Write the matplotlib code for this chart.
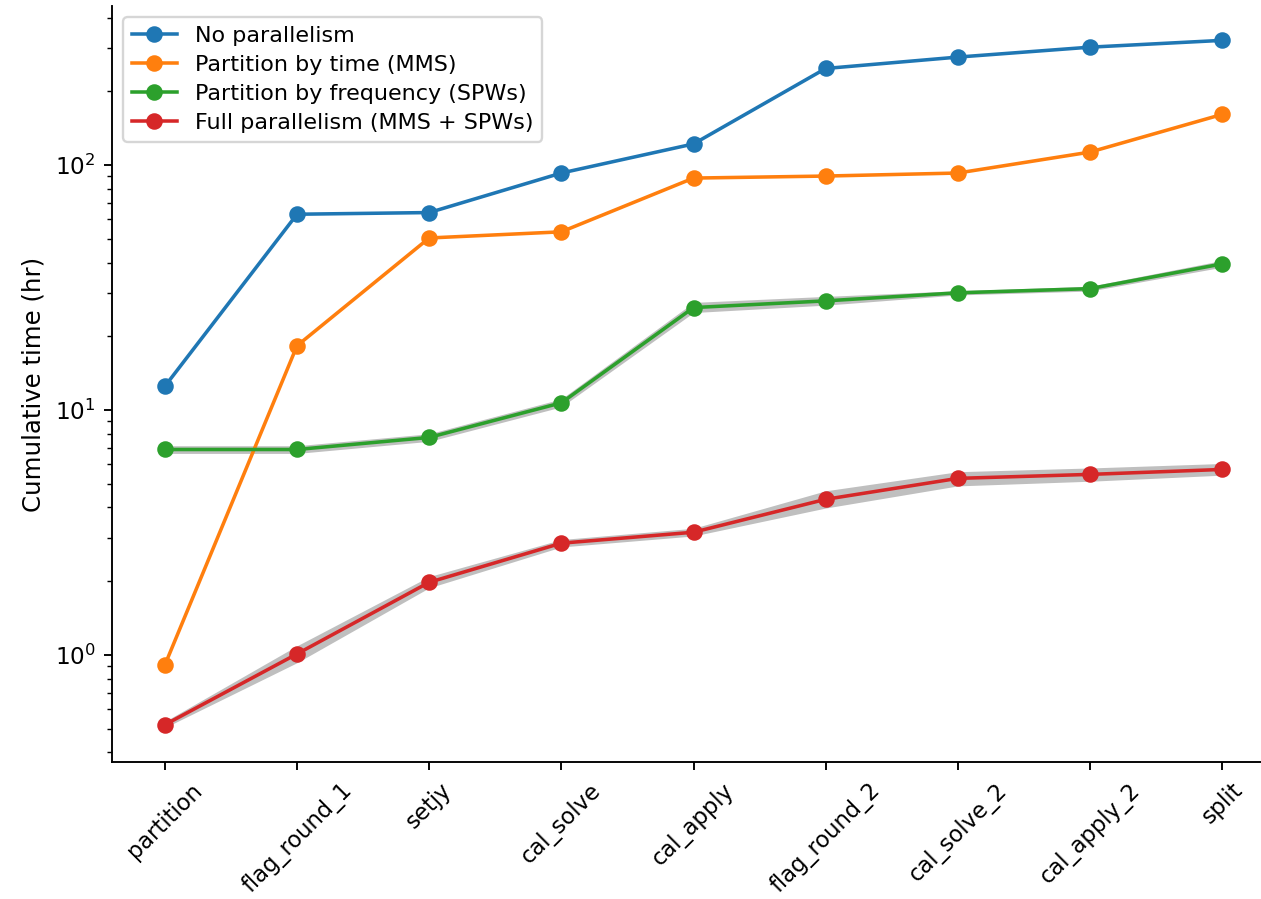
import numpy as np
import matplotlib
matplotlib.use("Agg")
import matplotlib.pyplot as plt

steps = ["partition", "flag_round_1", "setjy", "cal_solve", "cal_apply",
         "flag_round_2", "cal_solve_2", "cal_apply_2", "split"]

no_parallel = [12.5, 63, 64, 92.8, 122, 248, 276, 303, 323]
by_time = [0.91, 18.3, 50.4, 53.4, 88.5, 90.2, 92.8, 113, 161]
by_freq = [6.9, 6.9, 7.73, 10.7, 26.2, 27.9, 30.1, 31.3, 39.5]
by_freq_lo = [6.65, 6.65, 7.45, 10.3, 25.0, 26.8, 29.5, 30.6, 38.3]
by_freq_hi = [7.15, 7.15, 8.0, 11.1, 27.5, 29.1, 30.7, 32.0, 40.8]
full = [0.519, 1.01, 1.98, 2.86, 3.17, 4.32, 5.26, 5.46, 5.72]
full_lo = [0.505, 0.93, 1.88, 2.76, 3.06, 3.98, 4.9, 5.12, 5.42]
full_hi = [0.535, 1.09, 2.09, 2.96, 3.29, 4.68, 5.6, 5.8, 6.05]

labels = ["No parallelism", "Partition by time (MMS)",
          "Partition by frequency (SPWs)", "Full parallelism (MMS + SPWs)"]

fig = plt.figure(figsize=(1261 / 170, 899 / 170), dpi=170)
ax = fig.add_axes([112 / 1261, 137 / 899, 1163 / 1261, 756 / 899])

x = np.arange(len(steps))
ax.fill_between(x, by_freq_lo, by_freq_hi, color="gray", alpha=0.5, lw=0)
ax.fill_between(x, full_lo, full_hi, color="gray", alpha=0.5, lw=0)

ax.plot(x, no_parallel, "o-", color="C0", label=labels[0])
ax.plot(x, by_time, "o-", color="C1", label=labels[1])
ax.plot(x, by_freq, "o-", color="C2", label=labels[2])
ax.plot(x, full, "o-", color="C3", label=labels[3])

ax.set_yscale("log")
ax.set_xticks(x)
ax.set_xticklabels(steps, rotation=45, fontsize=9.6)
ax.tick_params(axis="y", labelsize=9.8)
ax.set_ylabel("Cumulative time (hr)", fontsize=10.3)
ax.spines["top"].set_visible(False)
ax.spines["right"].set_visible(False)
ax.legend(loc="upper left", fontsize=9.45, labelspacing=0.4)

fig.savefig("out.png", dpi=170)
